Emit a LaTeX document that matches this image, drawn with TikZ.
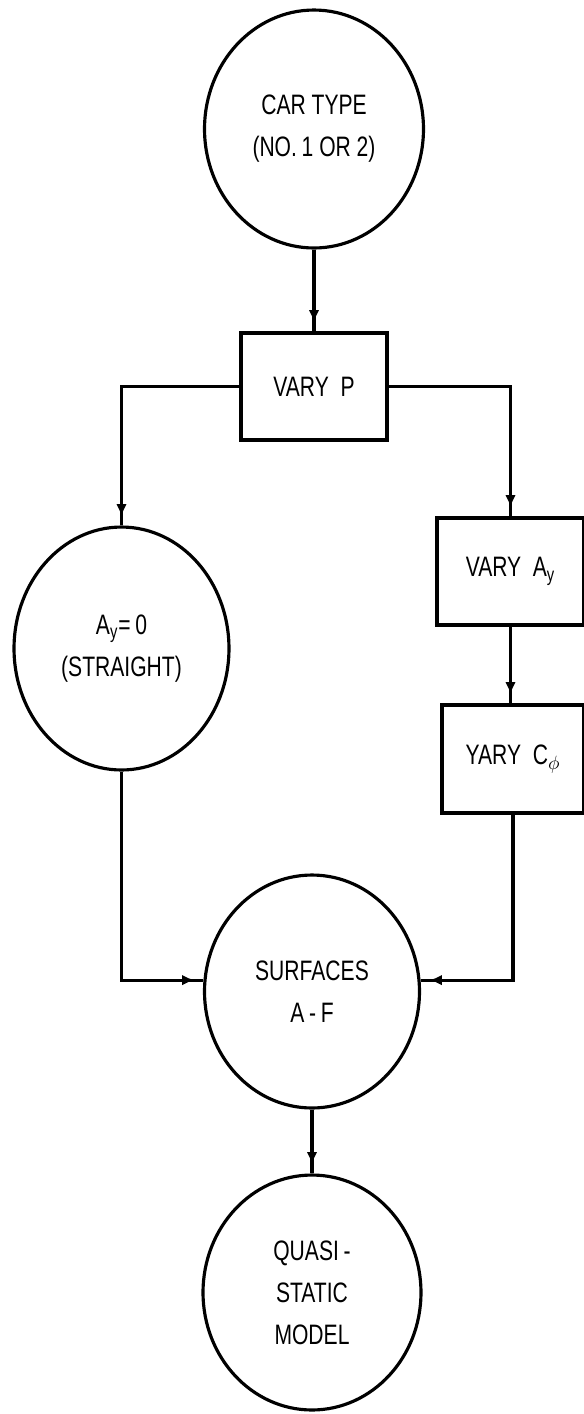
\documentclass[tikz,border=0pt]{standalone}
\usepackage{fontspec}
\setsansfont{Liberation Sans}[FakeStretch=0.75]
\usetikzlibrary{shapes.geometric,arrows.meta,decorations.markings}

\begin{document}
\begin{tikzpicture}[x=0.02cm,y=-0.02cm,
  every node/.style={font=\sffamily\fontsize{16}{24}\selectfont,align=center,inner sep=0pt,line width=1.8pt},
  blob/.style={ellipse,draw},
  box/.style={rectangle,draw,minimum height=2.14cm},
  flow/.style={line width=1.8pt,postaction={decorate},
    decoration={markings,mark=at position -0.18cm with {\arrow{Latex[length=7pt,width=6pt]}}}}]
\useasboundingbox (0,0) rectangle (584,1414);
\node[blob,minimum width=4.38cm,minimum height=4.76cm] (car) at (314,129) {CAR TYPE\\(NO.\,1 OR 2)};
\node[box,minimum width=2.92cm] (varyp) at (314,386.5) {VARY\ \ P};
\node[blob,minimum width=4.3cm,minimum height=4.86cm] (ay0) at (121.5,648.5) {A\textsubscript{y}=\,0\\(STRAIGHT)};
\node[box,minimum width=2.94cm] (ay) at (510.5,571.5) {VARY\ \ A\textsubscript{y}};
\node[box,minimum width=2.84cm,minimum height=2.16cm] (cphi) at (513,759) {YARY\ \ C$_\phi$};
\node[blob,minimum width=4.3cm,minimum height=4.66cm] (surf) at (312,991.5) {SURFACES\\A\,-\,F};
\node[blob,minimum width=4.36cm,minimum height=4.7cm] (quasi) at (312,1292.5) {QUASI\,-\\STATIC\\MODEL};
% connectors
\draw[flow] (car) -- (varyp);
\draw[flow] (varyp.west) -| (ay0.north);
\draw[flow] (varyp.east) -| (ay.north);
\draw[flow] (ay.south) -- (ay.south |- cphi.north);
\draw[flow] (ay0.south) |- (surf.174);
\draw[flow] (cphi.south) |- (surf.6);
\draw[flow] (surf) -- (quasi);
\end{tikzpicture}
\end{document}
